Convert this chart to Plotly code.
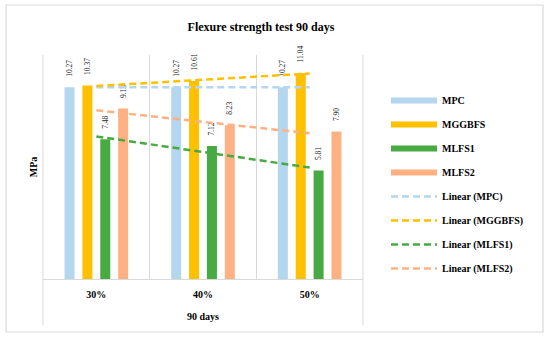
import numpy as np
import plotly.graph_objects as go

categories = ["30%", "40%", "50%"]
group_label = "90 days"
series_names = ["MPC", "MGGBFS", "MLFS1", "MLFS2"]
mpc = [10.27, 10.27, 10.27]
mggbfs = [10.37, 10.61, 11.04]
mlfs1 = [7.48, 7.12, 5.81]
mlfs2 = [9.13, 8.23, 7.90]
colors = ["#B4D6EE", "#FFC000", "#47AA42", "#FFB183"]

values = [mpc, mggbfs, mlfs1, mlfs2]
FONT = "Liberation Serif"

fig = go.Figure()

for name, vals, col in zip(series_names, values, colors):
    fig.add_trace(go.Bar(
        x=categories, y=vals, name=name, marker_color=col,
        marker_line_width=0, showlegend=False,
        text=[f"{v:.2f}" for v in vals], texttemplate="    %{text}",
        textposition="outside",
        textangle=-90, cliponaxis=False, constraintext="none",
        textfont=dict(family=FONT, size=7.5, color="#262626"),
    ))

# legend proxies for the bar series (wide rectangles)
for i, (name, col) in enumerate(zip(series_names, colors)):
    fig.add_trace(go.Scatter(
        x=[None], y=[None], mode="lines", name=name,
        line=dict(color=col, width=6), legendgroup=f"g{i}",
    ))

# linear trendlines computed from the data
xi = np.arange(1, len(categories) + 1)
for i, (name, vals, col) in enumerate(zip(series_names, values, colors)):
    slope, intercept = np.polyfit(xi, vals, 1)
    trend = slope * xi + intercept
    fig.add_trace(go.Scatter(
        x=categories, y=trend, mode="lines", name=f"Linear ({name})",
        line=dict(color=col, width=2.5, dash="7px,4px"),
        legendgroup=f"t{i}",
    ))

L, R, T, B = 43, 363, 55, 279
W, H = 550, 339
pw, ph = R - L, B - T

def px(xp):
    return (xp - L) / pw

def py(yp):
    return (B - yp) / ph

fig.update_layout(
    width=W, height=H,
    margin=dict(l=L, r=W - R, t=T, b=H - B, autoexpand=False),
    paper_bgcolor="white", plot_bgcolor="white",
    barmode="group", bargap=0.33, bargroupgap=0.44,
    font=dict(family=FONT, color="#000000"),
    title=dict(text="Flexure strength test 90 days", x=261 / W, xref="container",
               y=1 - 27 / H, yref="container", yanchor="middle", xanchor="center",
               font=dict(family=FONT, size=12, weight="bold", color="#000000")),
    legend=dict(
        xref="container", yref="container", x=386 / W, y=1 - 86 / H,
        xanchor="left", yanchor="top", maxheight=320,
        font=dict(family=FONT, size=10, weight="bold", color="#000000"),
        itemwidth=46, tracegroupgap=5, bgcolor="rgba(0,0,0,0)",
    ),
    xaxis=dict(
        type="category", tickson="boundaries", showgrid=True, gridcolor="#D9D9D9",
        gridwidth=1, showline=True, linecolor="#D9D9D9", linewidth=1, ticks="",
        range=[-0.5, 2.5], automargin=False, ticklabelstandoff=6,
        tickfont=dict(family=FONT, size=10, weight="bold", color="#000000"),
        title=dict(text=group_label, standoff=13,
                   font=dict(family=FONT, size=10, weight="bold", color="#000000")),
    ),
    yaxis=dict(
        range=[0, 12], showticklabels=False, showgrid=False, zeroline=False,
        showline=False, ticks="", automargin=False,
        title=dict(text="MPa", standoff=2,
                   font=dict(family=FONT, size=10, weight="bold", color="#000000")),
    ),
    shapes=[
        dict(type="line", xref="paper", yref="paper", x0=0, x1=0, y0=py(325), y1=1,
             line=dict(color="#D9D9D9", width=1)),
        dict(type="line", xref="paper", yref="paper", x0=1, x1=1, y0=py(325), y1=1,
             line=dict(color="#D9D9D9", width=1)),
        dict(type="rect", xref="paper", yref="paper", x0=px(6), x1=px(543),
             y0=py(332), y1=py(5), line=dict(color="#D9D9D9", width=1.2),
             fillcolor="rgba(0,0,0,0)", layer="below"),
    ],
)

fig.write_html("out.html", config={"displayModeBar": False},
               post_script="document.body.style.margin='0';")
